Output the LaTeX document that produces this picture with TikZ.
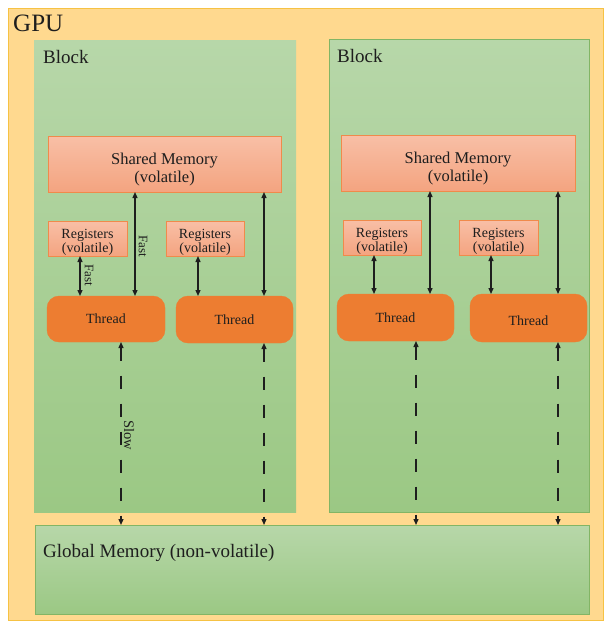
\documentclass[tikz,border=0pt]{standalone}
\usepackage{fontspec}
\setmainfont{Liberation Serif}
\usetikzlibrary{arrows.meta,positioning}
\definecolor{gpuFill}{HTML}{FFD98F}
\definecolor{gpuLine}{HTML}{F6C244}
\definecolor{blkTop}{HTML}{B7D7A9}
\definecolor{blkBot}{HTML}{9BC884}
\definecolor{blkLine}{HTML}{82B565}
\definecolor{memTop}{HTML}{F8BFA6}
\definecolor{memBot}{HTML}{F4A480}
\definecolor{memLine}{HTML}{F08A4B}
\definecolor{thrFill}{HTML}{ED7D31}
\definecolor{ink}{HTML}{1E1E1E}
% two centred lines, set a little low in their box
\newcommand{\lowered}[2][4pt]{\raisebox{-#1}[\height][\depth]{#2}}
\newcommand{\twolines}[3][4pt]{\lowered[#1]{\begin{tabular}{@{}c@{}}#2\\#3\end{tabular}}}

\begin{document}
\begin{tikzpicture}[x=1pt, y=-1pt,
  box/.style={anchor=north west, inner sep=0pt, outer sep=0pt, text=ink},
  gpu/.style={box, draw=gpuLine, fill=gpuFill, line width=1pt},
  blk/.style={box, top color=blkTop, bottom color=blkBot, draw=blkLine, line width=0.8pt},
  mem/.style={box, top color=memTop, bottom color=memBot, draw=memLine, line width=0.8pt},
  thr/.style={box, fill=thrFill, draw=thrFill, rounded corners=12pt,
              font=\fontsize{14}{16}\selectfont},
  lbl/.style={anchor=base west, inner sep=0pt, text=ink},
  note/.style={rotate=-90, inner sep=0pt, text=ink, font=\fontsize{13}{14}\selectfont},
  arr/.style={{Triangle[length=6pt,width=5pt]}-{Triangle[length=6pt,width=5pt]},
              line width=1.3pt, ink},
  slow/.style={arr, dash pattern=on 13pt off 15pt}
]
\useasboundingbox (0,0) rectangle (604,621);

% containers
\node[gpu, minimum width=595pt, minimum height=612pt] (gpu) at (8,8) {};
\node[blk, draw=none, minimum width=262pt, minimum height=472pt] (blk1) at (34,40) {};
\node[blk, minimum width=260pt, minimum height=473pt] (blk2) at (329,39) {};
\node[blk, minimum width=554pt, minimum height=89pt] (glob) at (35,525) {};

\node[lbl, font=\fontsize{25}{28}\selectfont] (gpuname) at ([shift={(5,23)}]gpu.north west) {GPU};
\node[lbl, font=\fontsize{19}{21}\selectfont] (blkname1) at ([shift={(9,23)}]blk1.north west) {Block};
\node[lbl, font=\fontsize{19}{21}\selectfont] (blkname2) at ([shift={(8,23)}]blk2.north west) {Block};
\node[lbl, font=\fontsize{19}{21}\selectfont] (globname) at ([shift={(8,32)}]glob.north west) {Global Memory (non-volatile)};

% shared memory
\node[mem, minimum width=233pt, minimum height=56pt, font=\fontsize{16.5}{18}\selectfont]
  (shm1) at (48,136) {\twolines[6pt]{Shared Memory}{(volatile)}};
\node[mem, minimum width=234pt, minimum height=56pt, font=\fontsize{16.5}{18}\selectfont]
  (shm2) at (341,135) {\twolines[6pt]{Shared Memory}{(volatile)}};

% registers
\node[mem, minimum width=79pt, minimum height=35pt, font=\fontsize{14}{14}\selectfont]
  (reg1a) at (48,221) {\twolines{Registers}{(volatile)}};
\node[mem, minimum width=78pt, minimum height=35pt, font=\fontsize{14}{14}\selectfont]
  (reg1b) at (166,221) {\twolines{Registers}{(volatile)}};
\node[mem, minimum width=78pt, minimum height=35pt, font=\fontsize{14}{14}\selectfont]
  (reg2a) at (343,220) {\twolines{Registers}{(volatile)}};
\node[mem, minimum width=79pt, minimum height=35pt, font=\fontsize{14}{14}\selectfont]
  (reg2b) at (459,220) {\twolines{Registers}{(volatile)}};

% threads
\node[thr, minimum width=118pt, minimum height=46pt] (thr1a) at (47,296) {Thread};
\node[thr, minimum width=117pt, minimum height=47pt] (thr1b) at (176,296) {Thread};
\node[thr, minimum width=117pt, minimum height=47pt] (thr2a) at (337,294) {Thread};
\node[thr, minimum width=117pt, minimum height=48pt] (thr2b) at (470,294) {\lowered[3pt]{Thread}};

% arrow columns
\coordinate (r1a) at (80,0);  \coordinate (s1a) at (135,0); \coordinate (g1a) at (121,0);
\coordinate (r1b) at (198,0); \coordinate (s1b) at (264,0); \coordinate (g1b) at (264,0);
\coordinate (r2a) at (374,0); \coordinate (s2a) at (430,0); \coordinate (g2a) at (416,0);
\coordinate (r2b) at (491,0); \coordinate (s2b) at (558,0); \coordinate (g2b) at (558,0);

% fast paths
\draw[arr] (reg1a.south -| r1a) -- (thr1a.north -| r1a);
\draw[arr] (shm1.south -| s1a)  -- (thr1a.north -| s1a);
\draw[arr] (reg1b.south -| r1b) -- (thr1b.north -| r1b);
\draw[arr] (shm1.south -| s1b)  -- (thr1b.north -| s1b);
\draw[arr] (reg2a.south -| r2a) -- (thr2a.north -| r2a);
\draw[arr] (shm2.south -| s2a)  -- (thr2a.north -| s2a);
\draw[arr] (reg2b.south -| r2b) -- (thr2b.north -| r2b);
\draw[arr] (shm2.south -| s2b)  -- (thr2b.north -| s2b);

% slow paths
\draw[slow] (thr1a.south -| g1a) -- (glob.north -| g1a);
\draw[slow] (thr1b.south -| g1b) -- (glob.north -| g1b);
\draw[slow] (thr2a.south -| g2a) -- (glob.north -| g2a);
\draw[slow] (thr2b.south -| g2b) -- (glob.north -| g2b);

\node[note] (fast1) at (143,246) {Fast};
\node[note] (fast2) at (89,275) {Fast};
\node[note, font=\fontsize{14.5}{15}\selectfont] (slowlbl) at (129,435) {Slow};
\end{tikzpicture}
\end{document}
